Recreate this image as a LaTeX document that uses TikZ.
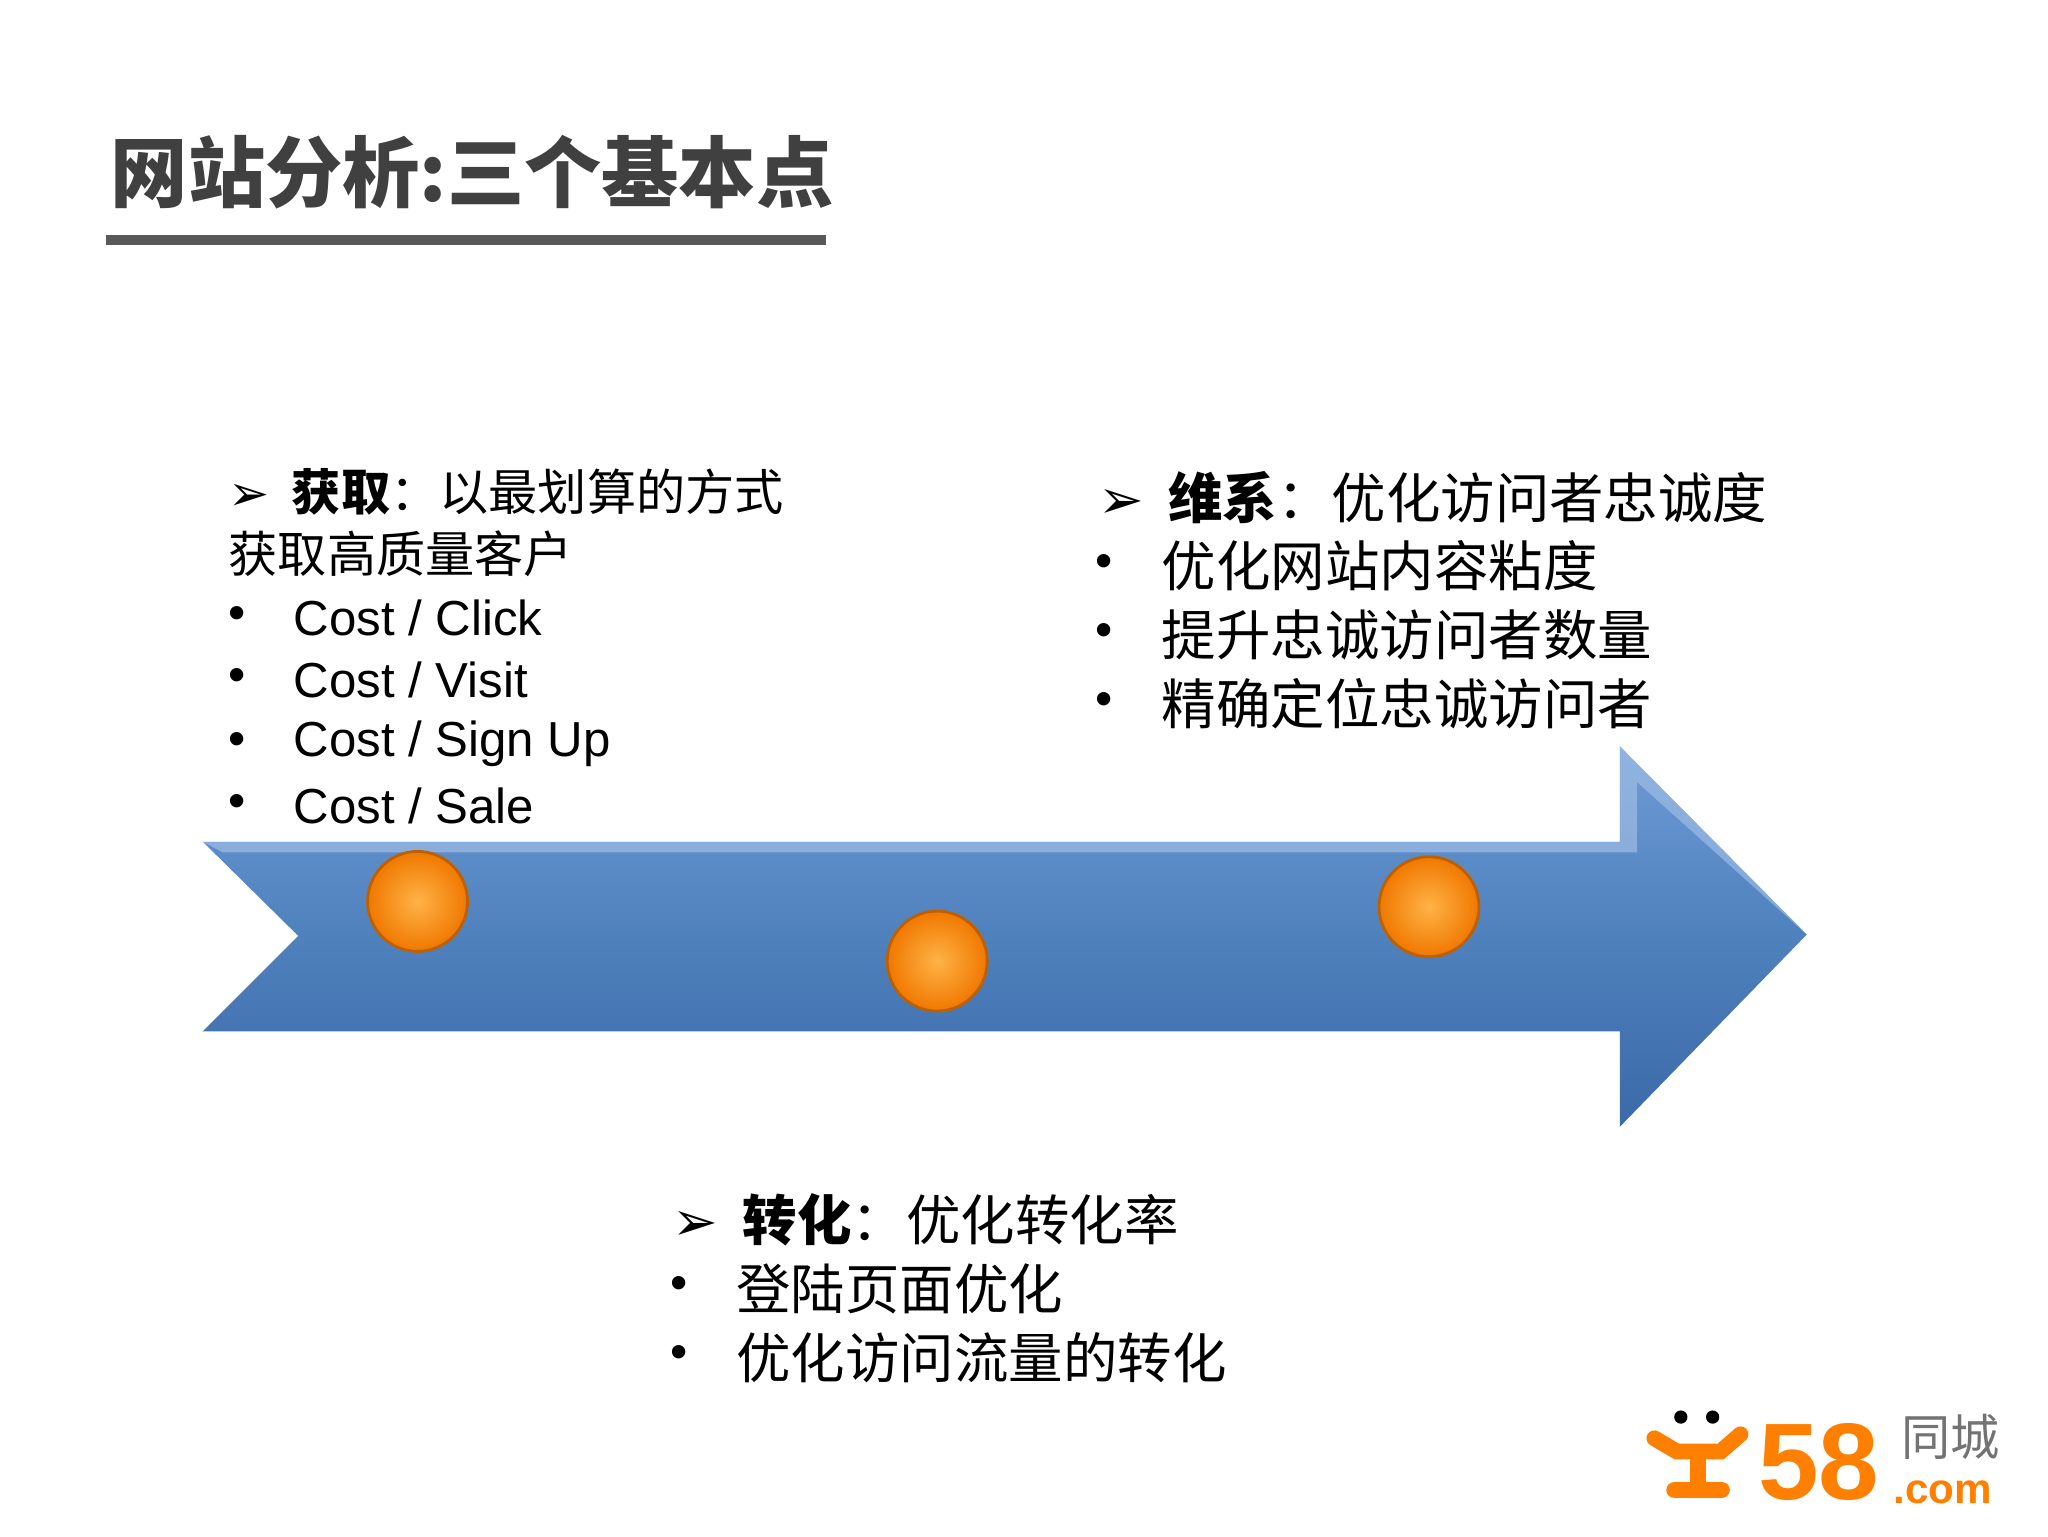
\documentclass[tikz,border=0pt]{standalone}
\usepackage{fontspec}
\setmainfont{Liberation Sans}
\newfontfamily\cjk{Noto Sans CJK SC}
\newfontfamily\dv{DejaVu Sans}
\definecolor{arrowblue}{HTML}{4F81BD}
\definecolor{arrowlight}{HTML}{6E9BD6}
\definecolor{arrowdark}{HTML}{3A6AA8}
\definecolor{ballin}{HTML}{FFB347}
\definecolor{ballout}{HTML}{F07800}
\begin{document}
\begin{tikzpicture}[x=0.013256cm,y=-0.013256cm,
  txt/.style={anchor=west,inner sep=0pt,font=\cjk\fontsize{14}{16}\selectfont,text=black},
  txtb/.style={anchor=west,inner sep=0pt,font=\cjk\fontsize{15.5}{18}\selectfont,text=black},
  bul/.style={anchor=west,inner sep=0pt,font=\fontsize{14}{16}\selectfont},
  ball/.style={circle,minimum size=1.0cm,inner sep=0pt,inner color=ballin,outer color=ballout,draw=orange!75!black,line width=0.8pt}]
\useasboundingbox (0,0) rectangle (1545,1159);
\fill[white] (0,0) rectangle (1545,1159);
% title
\node[anchor=west,inner sep=0pt,font=\cjk\bfseries\fontsize{22}{24}\selectfont,text=black!75] (title) at (83,130) {网站分析:三个基本点};
\draw[line width=3pt,black!65] (80,181) coordinate (ul1) -- (623,181) coordinate (ul2);
% arrow
\shade[top color=arrowlight,bottom color=arrowdark,middle color=arrowblue]
 (153,635) -- (1222,635) -- (1222,563) -- (1363,705) -- (1222,850) -- (1222,778) -- (153,778) -- (225,706) -- cycle;
\fill[arrowlight!60!white,opacity=0.6] (153,635) -- (1222,635) -- (1222,563) -- (1363,705) -- (1235,590) -- (1235,643) -- (168,643) -- cycle;
\node[ball] (b1) at (315,680) {};
\node[ball] (b2) at (707,725) {};
\node[ball] (b3) at (1078,684) {};
% left block
\node[txt] (l1) at (172,371) {{\dv ➢}\ \ \textbf{获取}：以最划算的方式};
\node[txt] (l2) at (172,418) {获取高质量客户};
\foreach \y/\t in {466/{Cost / Click},513/{Cost / Visit},561/{Cost / Sign Up},608/{Cost / Sale}}{
  \node[bul] at (172,\y) {•};
  \node[bul] at (221,\y) {\t};}
% right block
\node[txtb] (r1) at (828,375) {{\dv ➢}\ \ \textbf{维系}：优化访问者忠诚度};
\foreach \y/\t in {427/优化网站内容粘度,479/提升忠诚访问者数量,531/精确定位忠诚访问者}{
  \node[bul] at (826,\y) {•};
  \node[txtb] at (876,\y) {\t};}
% bottom block
\node[txtb] (m1) at (507,920) {{\dv ➢}\ \ \textbf{转化}：优化转化率};
\foreach \y/\t in {972/登陆页面优化,1024/优化访问流量的转化}{
  \node[bul] at (505,\y) {•};
  \node[txtb] at (555,\y) {\t};}
% logo
\fill[black] (1268,1069) circle (5) (1292,1069) circle (5);
\draw[orange,line width=4.5pt,line cap=round] (1248,1085) -- (1265,1095) -- (1298,1095) -- (1313,1082)
  (1281,1095) -- (1281,1122) (1263,1124) -- (1299,1124);
\node[anchor=west,inner sep=0pt,font=\bfseries\fontsize{31}{34}\selectfont,text=orange] (logo58) at (1326,1103) {58};
\node[anchor=west,inner sep=0pt,font=\cjk\fontsize{14}{16}\selectfont,text=black!55] (logocn) at (1434,1084) {同城};
\node[anchor=west,inner sep=0pt,font=\bfseries\fontsize{12}{14}\selectfont,text=orange] (logocom) at (1428,1126) {.com};
\end{tikzpicture}
\end{document}
